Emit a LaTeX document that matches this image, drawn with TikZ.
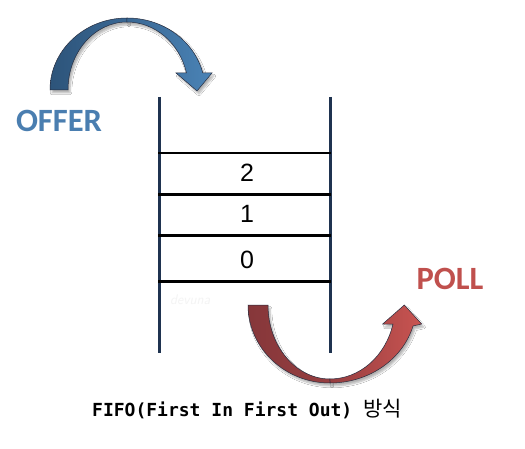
\documentclass[tikz,border=0pt]{standalone}
\usepackage{fontspec}
\usetikzlibrary{shadows.blur}
\newfontfamily\taglabelfont{Carlito}
\newfontfamily\numfont{Liberation Sans}
\newfontfamily\capmonofont{DejaVu Sans Mono}
\newfontfamily\krfont{Noto Sans CJK KR}
\definecolor{wallblue}{RGB}{31,51,80}
\definecolor{offerblue}{RGB}{74,126,176}
\definecolor{blueback}{RGB}{45,84,122}
\definecolor{bluemid}{RGB}{58,104,148}
\definecolor{bluefront}{RGB}{74,131,182}
\definecolor{pollred}{RGB}{192,80,77}
\definecolor{redback}{RGB}{134,55,58}
\definecolor{redmid}{RGB}{150,62,64}
\definecolor{redfront}{RGB}{201,84,81}
\definecolor{edgedark}{RGB}{38,44,62}

\begin{document}
\begin{tikzpicture}[x=1pt,y=1pt,
    wall/.style={line width=3pt,wallblue},
    slot/.style={line width=2.2pt,black},
    band/.style={draw=edgedark,line width=0.5pt,
      blur shadow={shadow xshift=2pt,shadow yshift=-3pt,shadow blur steps=6,shadow opacity=30}},
    num/.style={font={\numfont\fontsize{25}{25}\selectfont},anchor=base,inner sep=0pt},
    tag/.style={font={\taglabelfont\bfseries\fontsize{32.5}{32.5}\selectfont},anchor=base,inner sep=0pt}]
  \useasboundingbox (0,0) rectangle (525,-449); % 画像全体の範囲
  \fill[white] (0,0) rectangle (525,-449); % 白い背景

  % スタックの枠
  \coordinate (wl-top) at (159,-97);
  \coordinate (wl-bot) at (159,-353);
  \coordinate (wr-top) at (330,-97);
  \coordinate (wr-bot) at (330,-353);
  \draw[wall] (wl-top) -- (wl-bot); % 左の壁
  \draw[wall] (wr-top) -- (wr-bot); % 右の壁
  \draw[slot] (158,-153) -- (331,-153); % 区切り線（一番上）
  \draw[slot] (158,-194.5) -- (331,-194.5);
  \draw[slot] (158,-235.5) -- (331,-235.5);
  \draw[slot] (158,-281.5) -- (331,-281.5); % 区切り線（一番下）

  \node[num] (n2) at (247,-181.7) {2};
  \node[num] (n1) at (247,-223) {1};
  \node[num] (n0) at (247,-268.5) {0};
  \node[font={\sffamily\itshape\fontsize{14}{14}\selectfont},text=gray!9,anchor=base west,inner sep=0pt]
    (mark) at (170,-305) {devuna}; % 透かし文字

  % OFFER の矢印（奥側と手前側の二つに分ける）
  \path[band,left color=blueback,right color=bluemid]
    (50,-90) arc[start angle=180,end angle=90,x radius=77,y radius=72]
    -- (127,-22) arc[start angle=90,end angle=180,x radius=59,y radius=68] -- cycle;
  \path[band,left color=bluemid,right color=bluefront]
    (127,-18) arc[start angle=90,end angle=13.66,x radius=78,y radius=72]
    -- (212,-73) -- (197,-91) -- (176,-73) -- (186.5,-73)
    arc[start angle=14.5,end angle=90,x radius=61.5,y radius=68] -- cycle;
  \node[tag,text=offerblue] (offer) at (59,-132) {OFFER};

  % POLL の矢印
  \path[band,left color=redback,right color=redmid]
    (248,-305) arc[start angle=180,end angle=270,x radius=82,y radius=78]
    -- (330,-379) arc[start angle=270,end angle=180,x radius=62,y radius=74] -- cycle;
  \path[band,left color=redmid,right color=redfront]
    (330,-383) arc[start angle=270,end angle=344.4,x radius=86.2,y radius=78]
    -- (421.7,-324) -- (404.3,-305) -- (382.7,-324) -- (393,-324)
    arc[start angle=345.1,end angle=270,x radius=65.2,y radius=74] -- cycle;
  \node[tag,text=pollred] (poll) at (450,-290) {POLL};

  \node[anchor=base,inner sep=0pt,font={\capmonofont\bfseries\fontsize{18}{18}\selectfont}]
    (caption) at (247,-416) {FIFO(First In First Out) {\krfont\mdseries\fontsize{21}{21}\selectfont 방식}}; % 図の説明
\end{tikzpicture}
\end{document}
